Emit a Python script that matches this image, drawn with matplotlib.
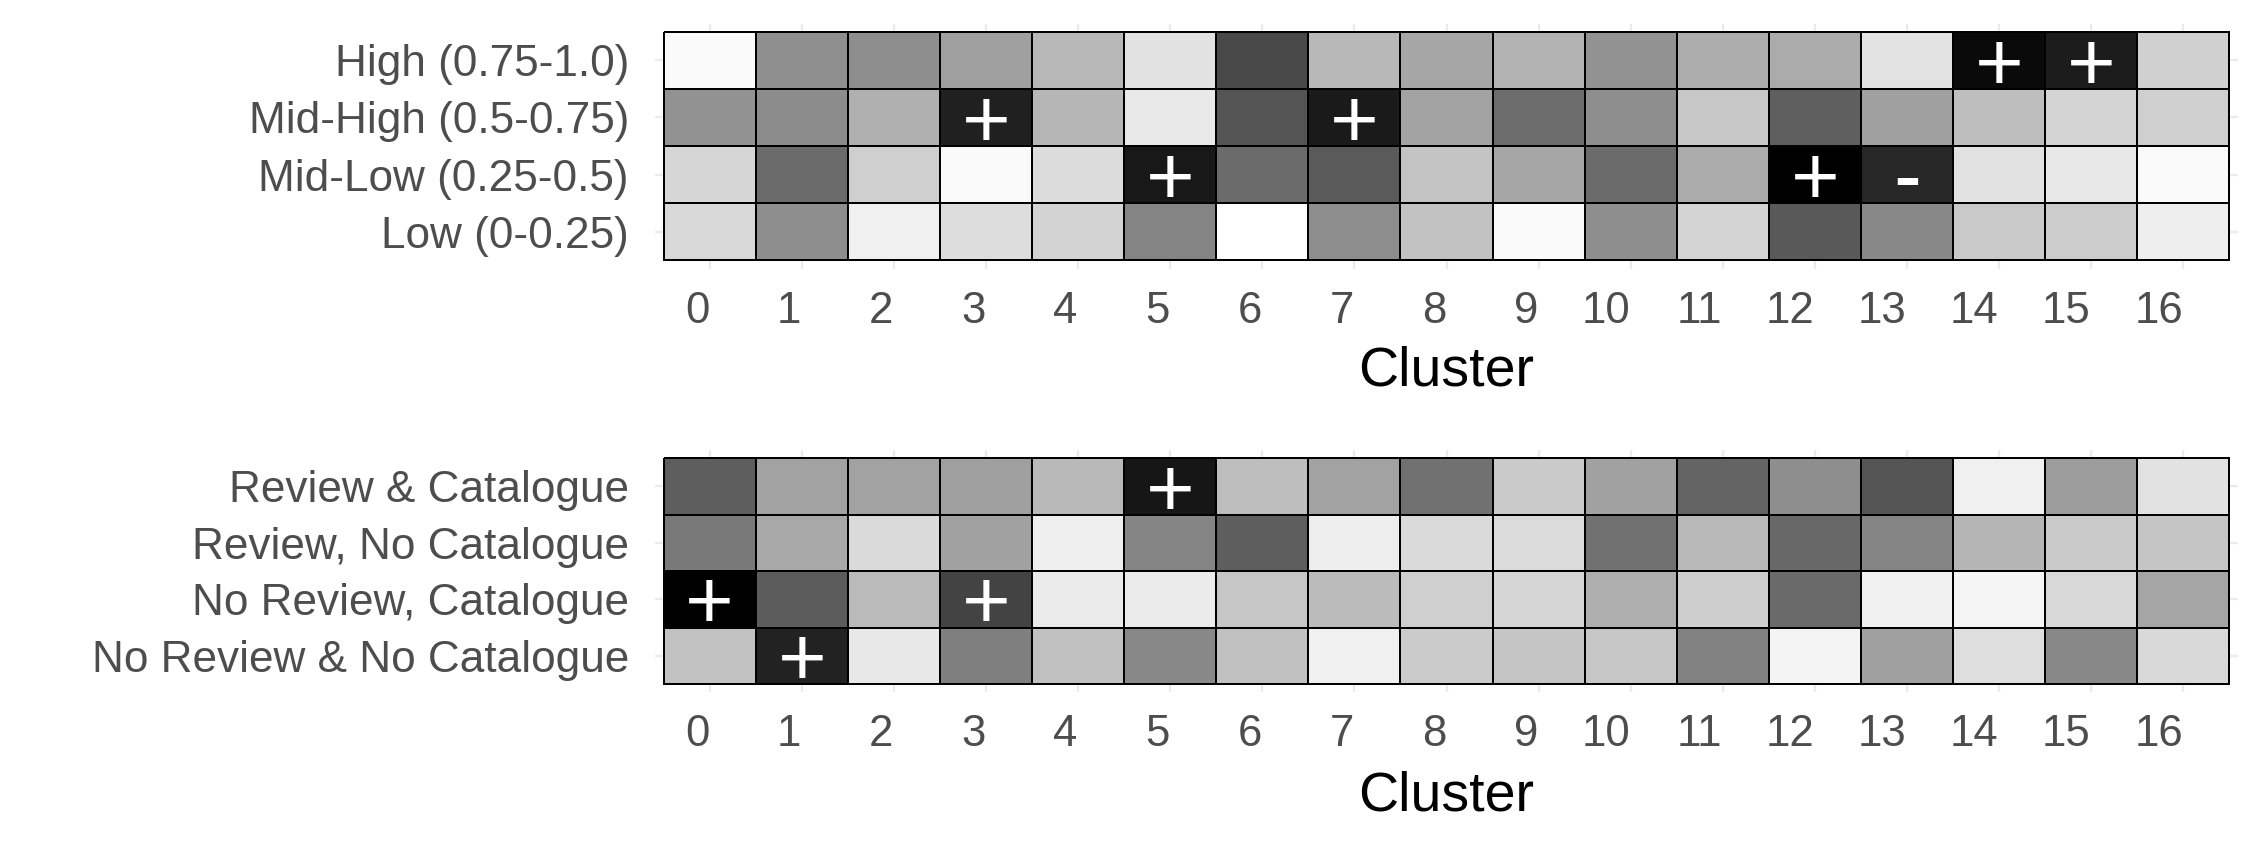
import numpy as np
import matplotlib
matplotlib.use("Agg")
import matplotlib.pyplot as plt
from matplotlib.colors import LinearSegmentedColormap
from matplotlib.transforms import ScaledTranslation, offset_copy

# ---------------- data ----------------
clusters = list(range(17))

score_levels = ["High (0.75-1.0)", "Mid-High (0.5-0.75)", "Mid-Low (0.25-0.5)", "Low (0-0.25)"]
review_levels = ["Review & Catalogue", "Review, No Catalogue",
                 "No Review, Catalogue", "No Review & No Catalogue"]

# grey level of each tile (0 = black, 255 = white), columns = clusters 0..16
score_high     = [250, 143, 142, 160, 184, 226, 72, 184, 166, 179, 146, 173, 171, 227, 10, 28, 208]
score_mid_high = [146, 140, 176, 32, 182, 233, 84, 26, 163, 108, 142, 200, 95, 160, 190, 212, 207]
score_mid_low  = [214, 107, 207, 250, 220, 24, 107, 90, 195, 166, 107, 171, 0, 39, 226, 232, 250]
score_low      = [216, 142, 240, 221, 211, 132, 255, 141, 194, 250, 142, 212, 89, 136, 201, 204, 238]

rev_cat        = [94, 162, 162, 159, 185, 22, 190, 162, 113, 202, 161, 100, 142, 85, 240, 156, 226]
rev_nocat      = [121, 168, 218, 161, 239, 133, 94, 238, 218, 219, 113, 185, 104, 133, 181, 202, 197]
norev_cat      = [0, 92, 186, 67, 234, 235, 198, 187, 207, 214, 174, 206, 106, 240, 245, 216, 165]
norev_nocat    = [194, 34, 232, 127, 193, 136, 193, 240, 203, 197, 198, 130, 244, 160, 222, 136, 217]

# significance signs per tile
score_high_sign     = [""] * 14 + ["+", "+", ""]
score_mid_high_sign = ["", "", "", "+", "", "", "", "+"] + [""] * 9
score_mid_low_sign  = ["", "", "", "", "", "+"] + [""] * 6 + ["+", "-", "", "", ""]
score_low_sign      = [""] * 17

rev_cat_sign     = ["", "", "", "", "", "+"] + [""] * 11
rev_nocat_sign   = [""] * 17
norev_cat_sign   = ["+", "", "", "+"] + [""] * 13
norev_nocat_sign = ["", "+"] + [""] * 15

# ---------------- figure ----------------
W, H, DPI = 2267, 850, 100
fig = plt.figure(figsize=(W / DPI, H / DPI), dpi=DPI)
fig.patch.set_facecolor("white")

cmap = LinearSegmentedColormap.from_list("wk", ["white", "black"])
FONT = "Liberation Sans"
TICK_COLOR = "#4D4D4D"


def px_axes(x0, y0, x1, y1):
    """axes from pixel box (top-left origin)."""
    return fig.add_axes([x0 / W, 1 - y1 / H, (x1 - x0) / W, (y1 - y0) / H])


def draw_heat(ax, rows, grey, signs, xlabel_y):
    data = 1 - np.array(grey, dtype=float) / 255.0
    nr, nc = data.shape
    mx, my = 0.09, 0.145
    xe = np.arange(nc + 1) - 0.5
    ye = np.arange(nr + 1) - 0.5
    ax.pcolormesh(xe, ye, data, cmap=cmap, vmin=0, vmax=1,
                  edgecolors="black", linewidth=1.1, zorder=2)
    ax.set_xlim(-0.5 - mx, nc - 0.5 + mx)
    ax.set_ylim(nr - 0.5 + my, -0.5 - my)
    ax.set_axisbelow(True)
    ax.grid(True, color="#EBEBEB", lw=1.6, zorder=0)
    for s in ax.spines.values():
        s.set_visible(False)
    ax.set_xticks(range(nc))
    ax.set_xticklabels([str(c) for c in clusters], fontsize=31.5, color=TICK_COLOR,
                       family=FONT, ha="right")
    ax.set_yticks(range(nr))
    ax.set_yticklabels(rows, fontsize=31.8, color=TICK_COLOR, family=FONT)
    ax.tick_params(axis="both", length=0)
    ax.tick_params(axis="x", pad=16)
    ax.tick_params(axis="y", pad=19)
    shift = ScaledTranslation(-0.5 / DPI, 0, fig.dpi_scale_trans)
    for lab in ax.get_xticklabels():
        lab.set_transform(lab.get_transform() + shift)
    ax.set_xlabel("Cluster", fontsize=40, family=FONT, color="black")
    ax.xaxis.set_label_coords(0.5, xlabel_y)
    fs = 60
    tr = offset_copy(ax.transData, fig=fig, x=0, y=-0.35 * fs, units="points")
    for i in range(nr):
        for j in range(nc):
            s = signs[i][j]
            if s:
                ax.text(j, i, s, ha="center", va="baseline", transform=tr,
                        fontsize=fs, color="white", family=FONT, zorder=3)


ax1 = px_axes(655.3, 23.5, 2237.7, 268.5)
draw_heat(ax1, score_levels,
          [score_high, score_mid_high, score_mid_low, score_low],
          [score_high_sign, score_mid_high_sign, score_mid_low_sign, score_low_sign],
          -0.315)

ax2 = px_axes(655.3, 450.0, 2237.7, 692.2)
draw_heat(ax2, review_levels,
          [rev_cat, rev_nocat, norev_cat, norev_nocat],
          [rev_cat_sign, rev_nocat_sign, norev_cat_sign, norev_nocat_sign],
          -0.325)

fig.savefig("out.png", dpi=DPI, facecolor="white")
